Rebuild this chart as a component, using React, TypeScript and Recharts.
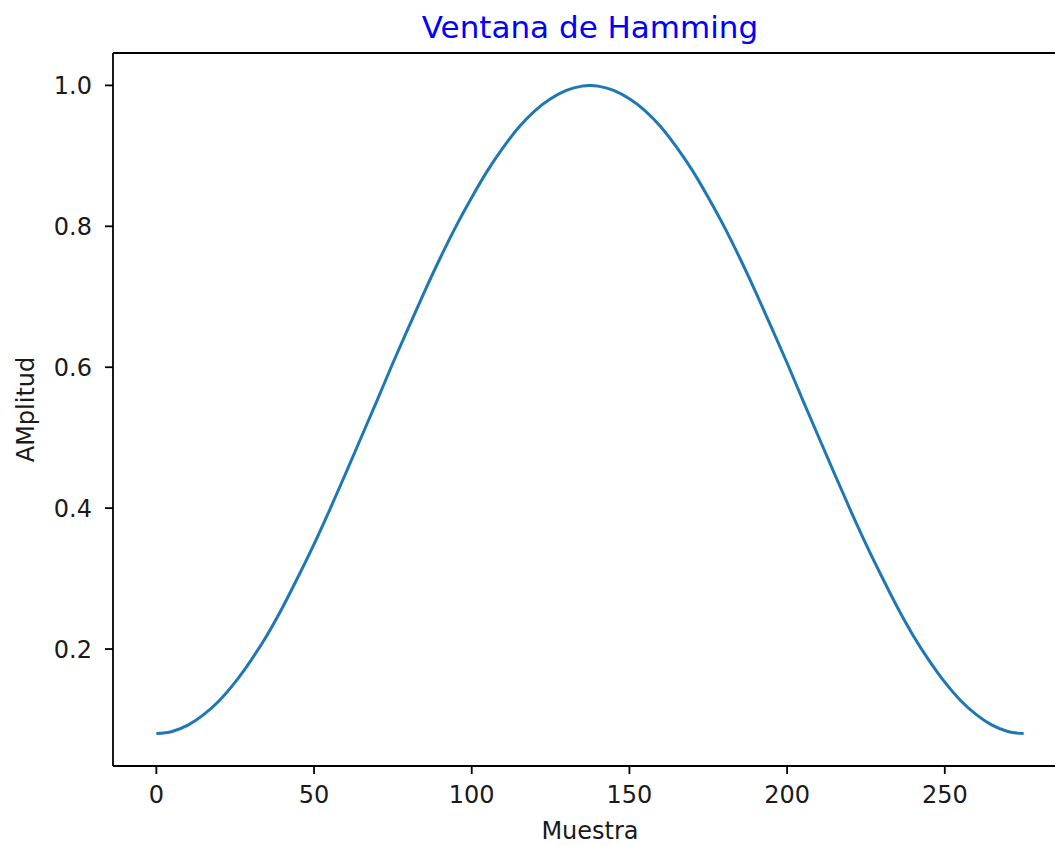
import { LineChart, Line, XAxis, YAxis, Label, ReferenceLine } from "recharts";

// sample index (x) and window amplitude
const SAMPLES = [
  0, 5, 10, 15, 20, 25, 30, 35, 40, 45, 50, 55, 60, 65, 70, 75, 80, 85, 90, 95, 100, 105, 110,
  115, 120, 125, 130, 135, 137, 138, 140, 145, 150, 155, 160, 165, 170, 175, 180, 185, 190, 195,
  200, 205, 210, 215, 220, 225, 230, 235, 240, 245, 250, 255, 260, 265, 270, 275,
];
const AMPLITUDE = [
  0.08, 0.083, 0.092, 0.107, 0.127, 0.153, 0.184, 0.219, 0.259, 0.303, 0.349, 0.398, 0.449,
  0.501, 0.553, 0.606, 0.657, 0.707, 0.755, 0.8, 0.841, 0.879, 0.912, 0.941, 0.964, 0.981, 0.993,
  0.999, 1.0, 1.0, 0.999, 0.993, 0.981, 0.964, 0.941, 0.912, 0.879, 0.841, 0.8, 0.755, 0.707,
  0.657, 0.606, 0.553, 0.501, 0.449, 0.398, 0.349, 0.303, 0.259, 0.219, 0.184, 0.153, 0.127,
  0.107, 0.092, 0.083, 0.08,
];
const X_TICKS = [0, 50, 100, 150, 200, 250];
const Y_TICKS = [0.2, 0.4, 0.6, 0.8, 1.0];
const Y_MIN = 0.034;
const Y_MAX = 1.046;

const data = SAMPLES.map((n, i) => ({ n, w: AMPLITUDE[i] }));

const FONT = "'DejaVu Sans', sans-serif";
const tickStyle = { fill: "#1a1a1a", fontSize: 24, fontFamily: FONT };
const spine = { stroke: "#000", strokeWidth: 1.8 };

export default function App() {
  return (
    <div
      style={{
        position: "absolute",
        left: 0,
        top: 0,
        width: 1055,
        height: 846,
        overflow: "hidden",
        background: "#fff",
      }}
    >
      <div
        style={{
          position: "absolute",
          left: 290,
          width: 600,
          top: 12,
          textAlign: "center",
          fontFamily: FONT,
          fontSize: 31,
          lineHeight: 1,
          color: "#0000ff",
          whiteSpace: "nowrap",
        }}
      >
        Ventana de Hamming
      </div>
      <LineChart
        width={1080}
        height={846}
        data={data}
        margin={{ top: 53, right: 13, bottom: 0, left: 0 }}
      >
        <XAxis
          dataKey="n"
          type="number"
          domain={[-13.75, 288.75]}
          allowDataOverflow
          ticks={X_TICKS}
          height={80}
          tick={tickStyle}
          tickSize={8}
          tickMargin={12}
          tickLine={spine}
          axisLine={spine}
        >
          <Label
            value="Muestra"
            position="insideBottom"
            offset={7}
            style={{ fill: "#1a1a1a", fontSize: 24, fontFamily: FONT }}
          />
        </XAxis>
        <YAxis
          type="number"
          domain={[Y_MIN, Y_MAX]}
          allowDataOverflow
          ticks={Y_TICKS}
          width={113}
          tickFormatter={(v: number) => v.toFixed(1)}
          tick={tickStyle}
          tickSize={8}
          tickMargin={13}
          tickLine={spine}
          axisLine={spine}
        >
          <Label
            content={(props: any) => {
              const vb = props.viewBox || { y: 53, height: 713 };
              const cy = vb.y + vb.height / 2;
              return (
                <text
                  x={34}
                  y={cy}
                  transform={`rotate(-90 34 ${cy})`}
                  textAnchor="middle"
                  fill="#1a1a1a"
                  fontSize={24}
                  fontFamily={FONT}
                >
                  AMplitud
                </text>
              );
            }}
          />
        </YAxis>
        <ReferenceLine y={Y_MAX} stroke="#000" strokeWidth={1.8} />
        <Line
          type="monotone"
          dataKey="w"
          stroke="#1f77b4"
          strokeWidth={3}
          dot={false}
          isAnimationActive={false}
        />
      </LineChart>
    </div>
  );
}
